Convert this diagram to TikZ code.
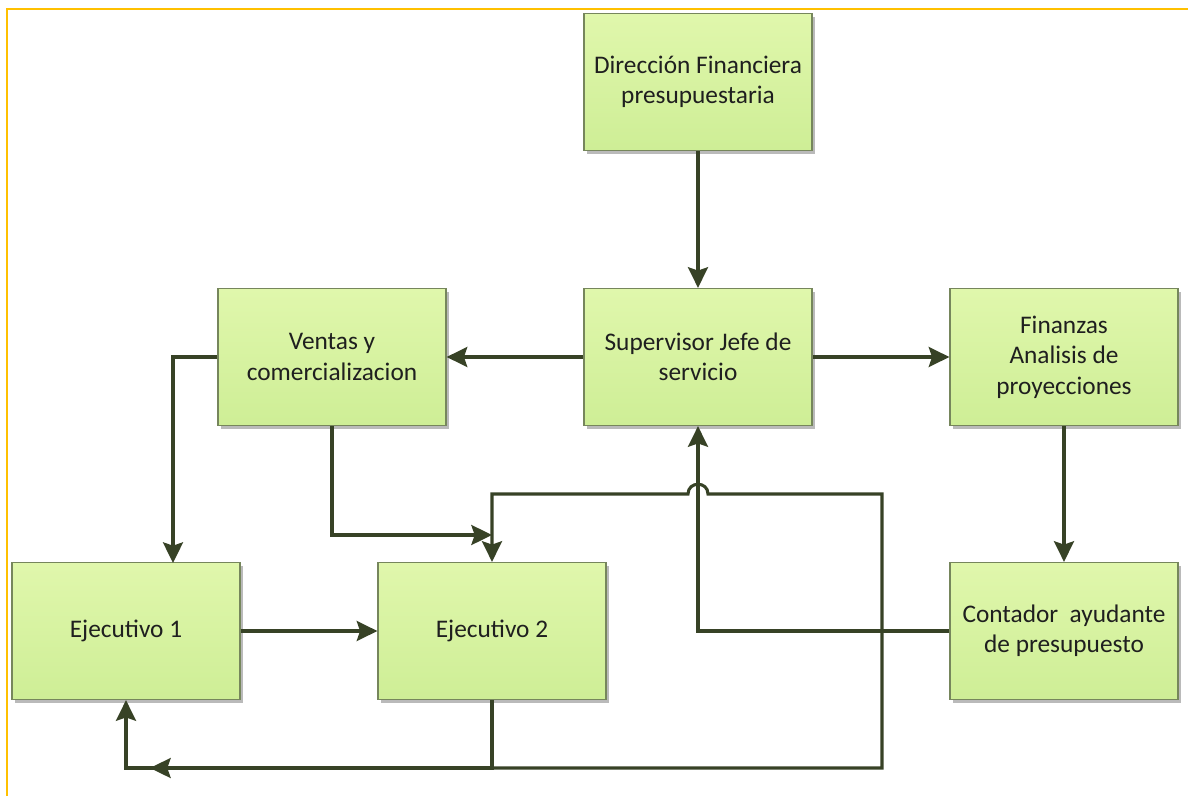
\documentclass[tikz,border=0pt]{standalone}
\usepackage{fontspec}
\setmainfont{Carlito}
\usetikzlibrary{arrows.meta,shadows}
\definecolor{linec}{RGB}{55,66,38}
\definecolor{boxtop}{RGB}{224,247,172}
\definecolor{boxbot}{RGB}{206,238,150}
\definecolor{boxdraw}{RGB}{118,134,92}
\definecolor{framec}{RGB}{255,192,0}
\tikzset{
  box/.style={draw=boxdraw, line width=0.9pt, top color=boxtop, bottom color=boxbot,
    minimum width=171pt, minimum height=102.75pt, align=center, text=black!88,
    font=\fontsize{19}{22.8}\selectfont,
    drop shadow={shadow xshift=2.6pt, shadow yshift=-2.6pt, fill=black!45, opacity=0.6}},
  conn/.style={draw=linec, line width=2.3pt},
  arr/.style={conn, -{Stealth[length=15.5pt,width=15pt,inset=2.5pt]}}
}
\begin{document}
\begin{tikzpicture}[x=0.75pt,y=-0.75pt]
\useasboundingbox (0,0) rectangle (1188,796);
\draw[framec, line width=2.2pt] (7,796) -- (7,9) -- (1188,9);

\node[box] (D) at (698,82) {Dirección Financiera\\presupuestaria};
\node[box] (S) at (698,357) {Supervisor Jefe de\\servicio};
\node[box] (V) at (332,357) {Ventas y\\comercializacion};
\node[box] (F) at (1064,357) {Finanzas\\Analisis de\\proyecciones};
\node[box] (E1) at (126,631) {Ejecutivo 1};
\node[box] (E2) at (492,631) {Ejecutivo 2};
\node[box] (C) at (1064,631) {Contador~ ayudante\\de presupuesto};

\coordinate (e1t) at (173,563);
\coordinate (j1) at (492,535);
\coordinate (bl) at (126,768);
\coordinate (bm) at (492,768);
\coordinate (br) at (882,768);
\coordinate (ma) at (150,768);
\coordinate (tr) at (882,494);
\coordinate (tl) at (492,494);
\coordinate (hr) at (708,494);
\coordinate (hl) at (688,494);

\draw[arr] (D.south) -- (S.north);
\draw[arr] (S.west) -- (V.east);
\draw[arr] (S.east) -- (F.west);
\draw[arr] (F.south) -- (C.north);
\draw[arr] (E1.east) -- (E2.west);
\draw[arr] (V.west) -| (e1t);
\draw[arr] (V.south) |- (j1);
\draw[arr] (C.west) -| (S.south);
\draw[arr] (E2.south) -- (bm) -- (bl) -- (E1.south);
\draw[arr] (bm) -- (ma);
\draw[arr] (bm) -- (br) -- (tr) -- (hr) .. controls (708,481) and (688,481) .. (hl) -- (tl) -- (E2.north);
\end{tikzpicture}
\end{document}
